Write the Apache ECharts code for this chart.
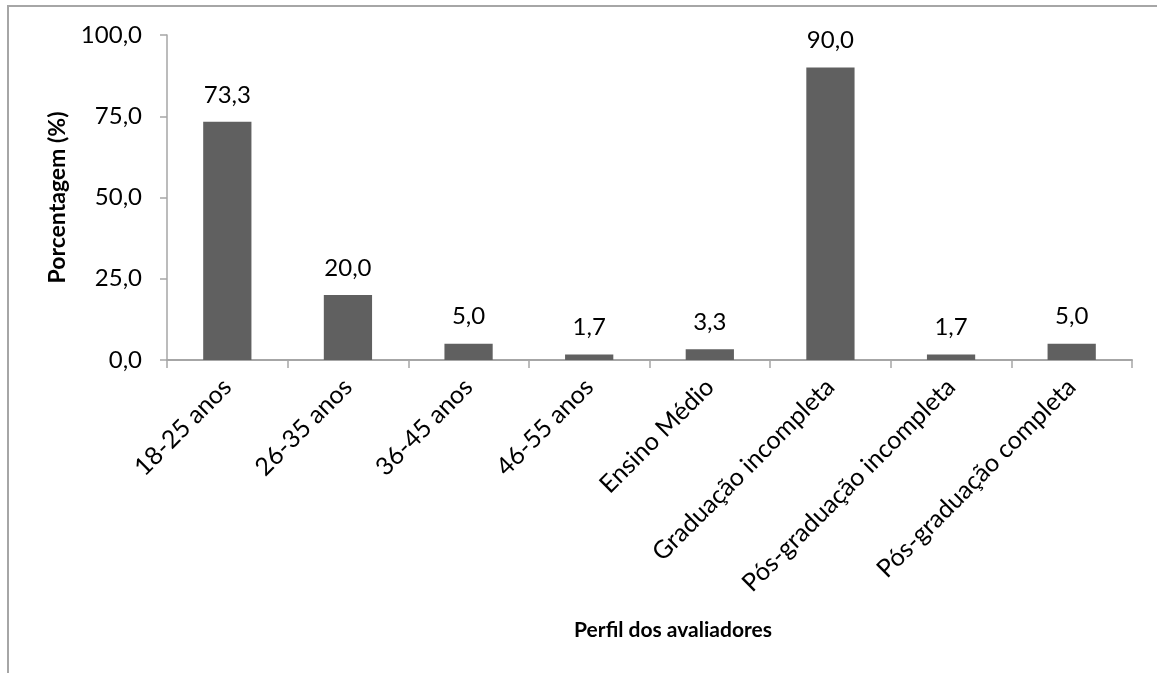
<!DOCTYPE html>
<html>
<head>
<meta charset="utf-8">
<script src="https://cdn.jsdelivr.net/npm/echarts@6/dist/echarts.min.js"></script>
<style>
  html, body { margin: 0; padding: 0; background: #fff; }
  #frame { position: absolute; left: 7px; top: 5px; width: 1200px; height: 700px;
           border-left: 2px solid #a6a6a6; border-top: 2px solid #a6a6a6; box-sizing: border-box; }
  #chart { position: absolute; left: 0; top: 0; width: 1157px; height: 673px; }
</style>
</head>
<body>
<div id="frame"></div>
<div id="chart"></div>
<script>
// Perfil dos avaliadores: faixa etária e escolaridade
const categories = ['18-25 anos', '26-35 anos', '36-45 anos', '46-55 anos',
  'Ensino Médio', 'Graduação incompleta', 'Pós-graduação incompleta', 'Pós-graduação completa'];
const percentages = [73.3, 20.0, 5.0, 1.7, 3.3, 90.0, 1.7, 5.0];
const yTicks = [0, 25, 50, 75, 100];

const fontFamily = 'Lato, "Open Sans", sans-serif';
const fmt = v => v.toFixed(1).replace('.', ',');

const chart = echarts.init(document.getElementById('chart'), null, { renderer: 'canvas' });
chart.setOption({
  animation: false,
  textStyle: { fontFamily },
  title: [
    {
      text: 'Perfil dos avaliadores', left: 668, top: 615, textAlign: 'center',
      textStyle: { fontFamily, fontSize: 21, fontWeight: 'bold', color: '#000' }
    }
  ],
  grid: { left: 167, right: 25, top: 35, bottom: 313, containLabel: false },
  xAxis: {
    type: 'category',
    data: categories,
    axisLine: { lineStyle: { color: '#a6a6a6', width: 2 } },
    axisTick: { show: true, length: 8, lineStyle: { color: '#a6a6a6', width: 1.5 } },
    axisLabel: {
      rotate: 45, interval: 0, margin: 23, fontSize: 25, color: '#000', fontFamily
    }
  },
  yAxis: {
    type: 'value',
    min: yTicks[0], max: yTicks[yTicks.length - 1], interval: 25,
    name: 'Porcentagem (%)', nameLocation: 'middle', nameGap: 98, nameRotate: 90,
    nameTextStyle: { fontSize: 23, fontWeight: 'bold', color: '#000', fontFamily },
    axisLine: { show: true, lineStyle: { color: '#a6a6a6', width: 1.5 } },
    axisTick: { show: true, length: 7, lineStyle: { color: '#a6a6a6', width: 1.5 } },
    splitLine: { show: false },
    axisLabel: { formatter: fmt, fontSize: 24, color: '#000', margin: 25, fontFamily }
  },
  series: [{
    type: 'bar',
    data: percentages,
    barWidth: '40%',
    itemStyle: { color: '#606060' },
    label: {
      show: true, position: 'top', distance: 15, formatter: p => fmt(p.value),
      fontSize: 24, color: '#000', fontFamily
    }
  }]
});
</script>
</body>
</html>
